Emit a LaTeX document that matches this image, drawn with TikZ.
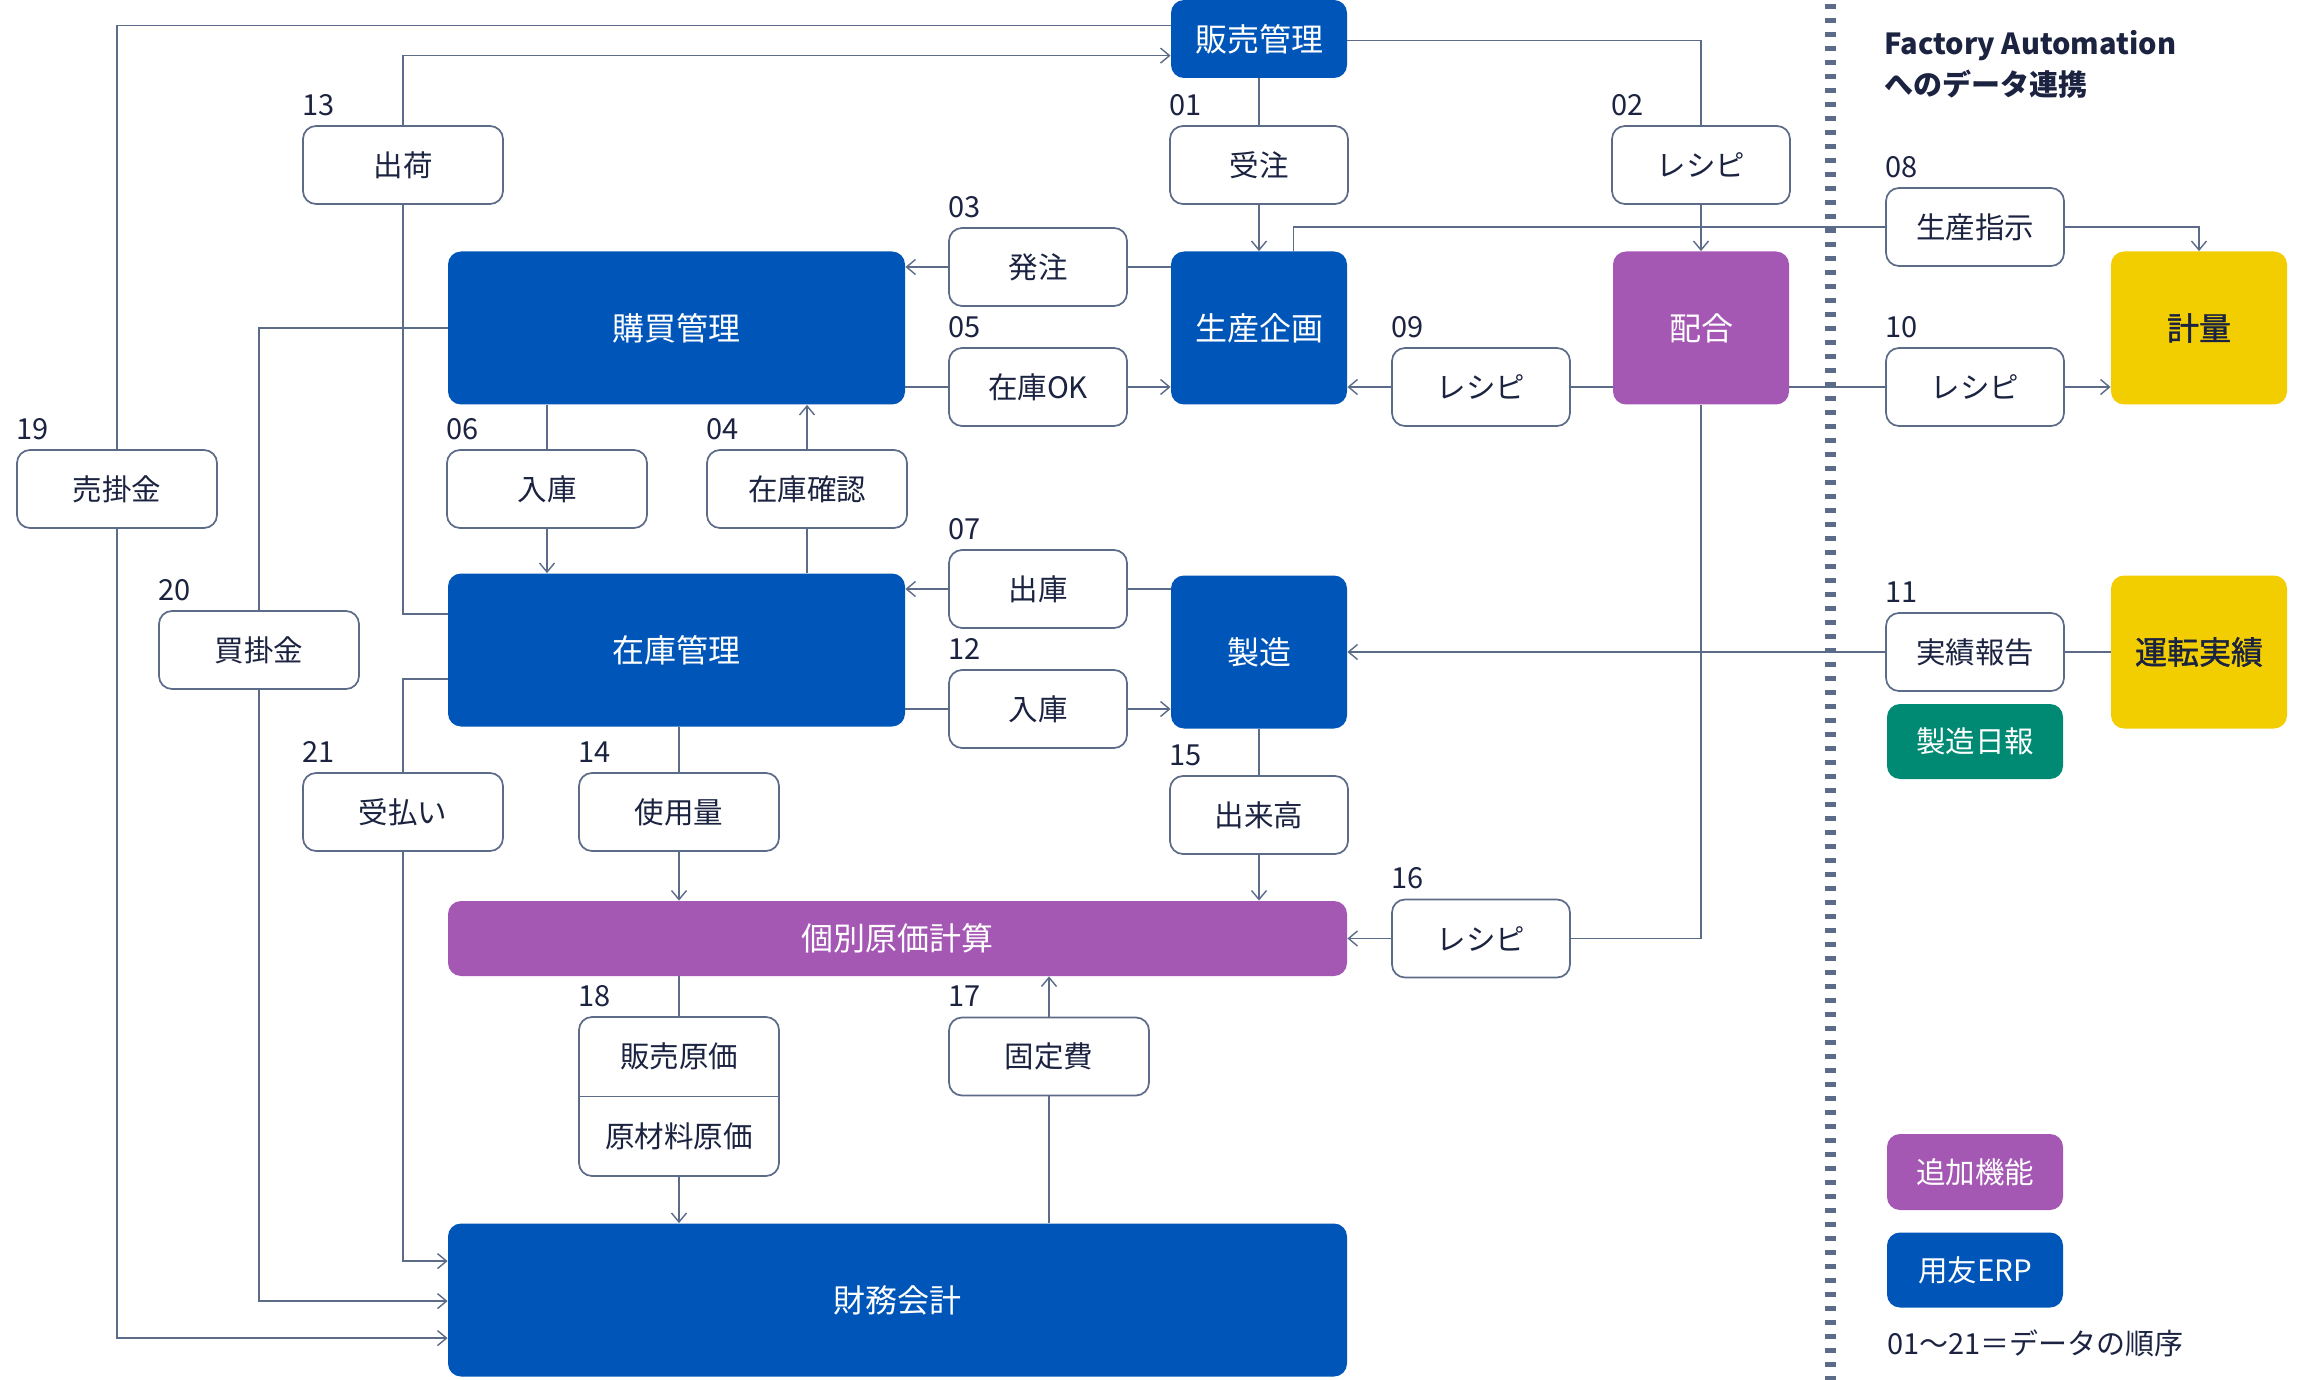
\documentclass[tikz,border=0pt]{standalone}
\usepackage{fontspec}
\setmainfont{Noto Sans CJK JP}
\newfontfamily\jpmed{Noto Sans CJK JP}[FakeBold=1.3]
\usetikzlibrary{arrows.meta,calc}
\definecolor{erpblue}{HTML}{0056B8}
\definecolor{addpurple}{HTML}{A557B4}
\definecolor{fayellow}{HTML}{F2CD00}
\definecolor{nippogreen}{HTML}{008A73}
\definecolor{linec}{HTML}{5C6B87}
\definecolor{txt}{HTML}{1B2341}
\begin{document}
\begin{tikzpicture}[x=0.5pt,y=-0.5pt,
  wbox/.style={draw=linec, line width=0.85pt, fill=white, rounded corners=6.5pt,
    minimum width=89pt, minimum height=39pt, inner sep=0pt, text=txt,
    font=\fontsize{14.75}{17}\selectfont},
  wboxw/.style={wbox, minimum width=100pt},
  bbox/.style={fill=erpblue, rounded corners=6.5pt, inner sep=0pt, text=white,
    minimum width=88pt, minimum height=76.5pt, font=\fontsize{16}{19}\selectfont},
  pbox/.style={bbox, fill=addpurple},
  ybox/.style={bbox, fill=fayellow, text=txt, font=\jpmed\fontsize{16}{19}\selectfont},
  num/.style={anchor=base west, inner sep=0pt, text=txt, font=\fontsize{14.5}{17}\selectfont},
  conn/.style={draw=linec, line width=0.7pt},
  arr/.style={conn, -{Straight Barb[length=4.5pt,width=7.5pt,line width=0.7pt]}}
]
\useasboundingbox (0,0) rectangle (2304,1380);
\fill[white] (0,0) rectangle (2304,1380);

% separator
\draw[linec, line width=5.5pt, dash pattern=on 2.5pt off 4.5pt] (1830,4) -- (1830,1380);

% main ERP boxes
\node[bbox, minimum height=39pt] (hanbai) at (1259,39) {販売管理};
\node[bbox, minimum width=228.5pt] (kobai) at (676.5,328) {購買管理};
\node[bbox] (seisan) at (1259,328) {生産企画};
\node[pbox] (haigo) at (1701,328) {配合};
\node[ybox] (keiryo) at (2199,328) {計量};
\node[bbox, minimum width=228.5pt] (zaiko) at (676.5,650) {在庫管理};
\node[bbox] (seizo) at (1259,652) {製造};
\node[ybox] (unten) at (2199,652) {運転実績};
\node[pbox, minimum width=449.5pt, minimum height=37.5pt] (kobetsu) at (897.5,938.5) {個別原価計算};
\node[bbox, minimum width=449.5pt] (zaimu) at (897.5,1300) {財務会計};

% data boxes
\node[wbox] (b01) at (1259,165) {受注};
\node[wbox] (b02) at (1701,165) {レシピ};
\node[wbox] (b03) at (1038,267) {発注};
\node[wboxw] (b04) at (807,489) {在庫確認};
\node[wbox] (b05) at (1038,387) {在庫OK};
\node[wboxw] (b06) at (547,489) {入庫};
\node[wbox] (b07) at (1038,589) {出庫};
\node[wbox] (b08) at (1975,227) {生産指示};
\node[wbox] (b09) at (1481,387) {レシピ};
\node[wbox] (b10) at (1975,387) {レシピ};
\node[wbox] (b11) at (1975,652) {実績報告};
\node[wbox] (b12) at (1038,709) {入庫};
\node[wboxw] (b13) at (403,165) {出荷};
\node[wboxw] (b14) at (679,812) {使用量};
\node[wbox] (b15) at (1259,815) {出来高};
\node[wbox] (b16) at (1481,938.5) {レシピ};
\node[wboxw] (b17) at (1049,1056.5) {固定費};
\node[wboxw, minimum height=79.5pt] (b18) at (679,1096.5) {};
\draw[linec, line width=0.85pt] (b18.west) -- (b18.east);
\node[inner sep=0pt, text=txt, font=\fontsize{14.75}{17}\selectfont] (t18a) at (679,1056.5) {販売原価};
\node[inner sep=0pt, text=txt, font=\fontsize{14.75}{17}\selectfont] (t18b) at (679,1136) {原材料原価};
\node[wboxw] (b19) at (117,489) {売掛金};
\node[wboxw] (b20) at (259,650) {買掛金};
\node[wboxw] (b21) at (403,812) {受払い};

\node[bbox, fill=nippogreen, minimum height=37.5pt, font=\fontsize{14.75}{17}\selectfont] (nippo) at (1975,741.5) {製造日報};

% number labels
\foreach \b/\n in {b01/01,b02/02,b03/03,b04/04,b05/05,b06/06,b07/07,b08/08,b09/09,b10/10,
  b11/11,b12/12,b13/13,b14/14,b15/15,b16/16,b17/17,b18/18,b19/19,b20/20,b21/21}{
  \node[num] (n\b) at ($(\b.north west)+(0,-10)$) {\n};
}

% connectors
\draw[conn] ($(hanbai.north west)+(0,26)$) -| (b19.north);
\draw[arr] (b19.south) |- ($(zaimu.north west)+(0,115)$);
\draw[conn] ($(zaiko.north west)+(0,41)$) -| (b13.south);
\draw[arr] (b13.north) |- ($(hanbai.north west)+(0,56)$);
\draw[conn] (hanbai.south) -- (b01.north);
\draw[arr] (b01.south) -- (seisan.north);
\draw[conn] ($(hanbai.north east)+(0,41)$) -| (b02.north);
\draw[arr] (b02.south) -- (haigo.north);
\draw[conn] (seisan.west |- b03) -- (b03.east);
\draw[arr] (b03.west) -- (kobai.east |- b03);
\draw[conn] (kobai.east |- b05) -- (b05.west);
\draw[arr] (b05.east) -- (seisan.west |- b05);
\draw[conn] (haigo.west |- b09) -- (b09.east);
\draw[arr] (b09.west) -- (seisan.east |- b09);
\draw[conn] (haigo.east |- b10) -- (b10.west);
\draw[arr] (b10.east) -- (keiryo.west |- b10);
\draw[conn] ($(seisan.north west)+(123,0)$) |- (b08.west);
\draw[arr] (b08.east) -| (keiryo.north);
\draw[conn] (kobai.south -| b06) -- (b06.north);
\draw[arr] (b06.south) -- (zaiko.north -| b06);
\draw[conn] (zaiko.north -| b04) -- (b04.south);
\draw[arr] (b04.north) -- (kobai.south -| b04);
\draw[conn] (seizo.west |- b07) -- (b07.east);
\draw[arr] (b07.west) -- (zaiko.east |- b07);
\draw[conn] (zaiko.east |- b12) -- (b12.west);
\draw[arr] (b12.east) -- (seizo.west |- b12);
\draw[conn] (unten.west |- b11) -- (b11.east);
\draw[arr] (b11.west) -- (seizo.east |- b11);
\draw[conn] (haigo.south) |- (b16.east);
\draw[arr] (b16.west) -- (kobetsu.east |- b16);
\draw[conn] (seizo.south) -- (b15.north);
\draw[arr] (b15.south) -- (kobetsu.north -| b15);
\draw[conn] (zaiko.south -| b14) -- (b14.north);
\draw[arr] (b14.south) -- (kobetsu.north -| b14);
\draw[conn] (kobetsu.south -| b18) -- (b18.north);
\draw[arr] (b18.south) -- (zaimu.north -| b18);
\draw[conn] (zaimu.north -| b17) -- (b17.south);
\draw[arr] (b17.north) -- (kobetsu.south -| b17);
\draw[conn] (kobai.west) -| (b20.north);
\draw[arr] (b20.south) |- ($(zaimu.north west)+(0,78)$);
\draw[conn] ($(zaiko.north west)+(0,106)$) -| (b21.north);
\draw[arr] (b21.south) |- ($(zaimu.north west)+(0,38)$);

% titles and legend
\node[anchor=base west, inner sep=0pt, text=txt, font=\fontsize{14.5}{17}\selectfont\bfseries] (fa1) at (1884,55) {Factory Automation};
\node[anchor=base west, inner sep=0pt, text=txt, font=\fontsize{14.5}{17}\selectfont\bfseries] (fa2) at (1884,96) {へのデータ連携};
\node[pbox, minimum height=38pt, font=\fontsize{14.75}{17}\selectfont] (lg1) at (1975,1172) {追加機能};
\node[bbox, minimum height=37.5pt, font=\fontsize{14.75}{17}\selectfont] (lg2) at (1975,1270) {用友ERP};
\node[anchor=base west, inner sep=0pt, text=txt, font=\fontsize{14.5}{17}\selectfont] (lg3) at (1887,1354) {01～21＝データの順序};
\end{tikzpicture}
\end{document}
